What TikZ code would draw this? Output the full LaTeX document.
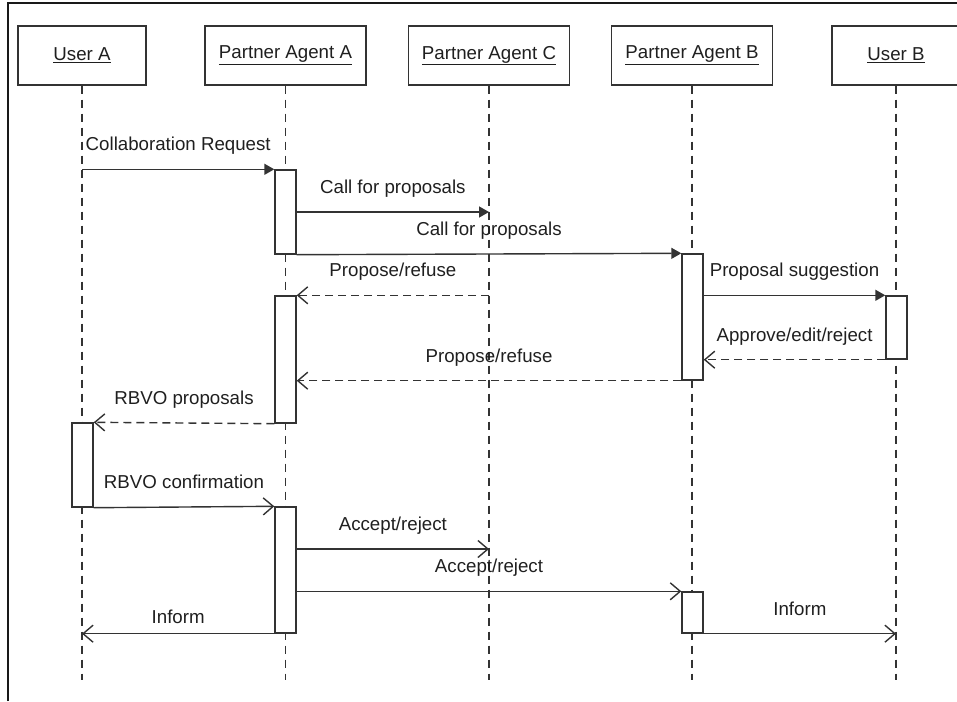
\documentclass[tikz,border=0pt]{standalone}
\usepackage{fontspec}
\setmainfont{Liberation Sans}
\usepackage{tikz}
\usetikzlibrary{arrows.meta}

\begin{document}
\begin{tikzpicture}[
  x=1pt, y=-1pt,
  every node/.style={font=\fontsize{18.7}{22}\selectfont, text=black!88},
  line/.style={draw=black!80, line width=1.4pt},
  head/.style={line, fill=white, minimum height=59pt, inner sep=0pt},
  life/.style={draw=black!80, line width=1.3pt, dash pattern=on 8pt off 6pt},
  actbar/.style={line, fill=white, minimum width=21pt, inner sep=0pt},
  call/.style={line, -{Triangle[length=10pt,width=11pt]}},
  async/.style={line, -{Straight Barb[length=10pt,width=17pt]}},
  reply/.style={async, dash pattern=on 8pt off 5pt},
  lbl/.style={anchor=base, inner sep=0pt, yshift=18.5pt},
]
\useasboundingbox (0,0) rectangle (957,701);
\draw[line, draw=black!90] (8,701) -- (8,3) -- (957,3);

% participants
\node[head, minimum width=128pt] (ua) at (82,55.5)    {\underline{User A}};
\node[head, minimum width=161pt] (aa) at (285.5,55.5) {\underline{Partner Agent A}};
\node[head, minimum width=161pt] (ac) at (489,55.5)   {\underline{Partner Agent C}};
\node[head, minimum width=161pt] (ab) at (692,55.5)   {\underline{Partner Agent B}};
\node[head, minimum width=128pt] (ub) at (896,55.5)   {\underline{User B}};

\coordinate (bottom) at (0,680);
\coordinate (t2)  at (0,212);
\coordinate (t10) at (0,549);

\foreach \p in {ua,aa,ac,ab,ub}
  \draw[life] (\p.south) -- (\p.south |- bottom);

% activations
\node[actbar, minimum height=84pt]  (aa1) at (285.5,212) {};
\node[actbar, minimum height=127pt] (aa2) at (285.5,359.5) {};
\node[actbar, minimum height=84pt]  (ua1) at (82.5,465) {};
\node[actbar, minimum height=126pt] (aa3) at (285.5,570) {};
\node[actbar, minimum height=126pt] (ab1) at (692.5,317) {};
\node[actbar, minimum height=63pt]  (ub1) at (896.5,327.5) {};
\node[actbar, minimum height=41pt]  (ab2) at (692.5,612.5) {};

% messages
\draw[call] (ua |- aa1.north) -- node[lbl, anchor=base west, pos=0, xshift=3pt]{Collaboration Request} (aa1.north west);
\draw[call] (aa1.east |- t2) -- node[lbl]{Call for proposals} (ac |- t2);
\draw[call] (aa1.south east) -- node[lbl]{Call for proposals} (ab1.north west);
\draw[reply] (ac |- aa2.north) -- node[lbl]{Propose/refuse} (aa2.north east);
\draw[call] (ab1.east |- ub1.north) -- node[lbl]{Proposal suggestion} (ub1.north west);
\draw[reply] (ub1.south west) -- node[lbl]{Approve/edit/reject} (ab1.east |- ub1.south);
\draw[reply] (ab1.south west) -- node[lbl]{Propose/refuse} (aa2.east |- ab1.south);
\draw[reply] (aa2.south west) -- node[lbl]{RBVO proposals} (ua1.north east);
\draw[async] (ua1.south east) -- node[lbl]{RBVO confirmation} (aa3.north west);
\draw[async] (aa3.east |- t10) -- node[lbl]{Accept/reject} (ac |- t10);
\draw[async] (aa3.east |- ab2.north) -- node[lbl]{Accept/reject} (ab2.north west);
\draw[async] (aa3.south west) -- node[lbl, yshift=-8.5pt]{Inform} (ua |- aa3.south);
\draw[async] (ab2.south east) -- node[lbl]{Inform} (ub |- ab2.south);
\end{tikzpicture}
\end{document}
